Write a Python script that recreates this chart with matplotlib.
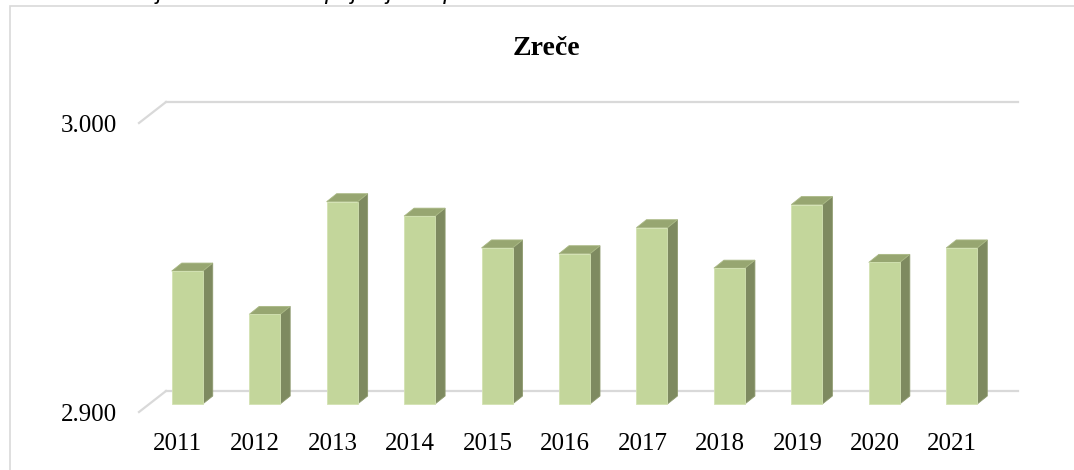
import matplotlib
matplotlib.use('Agg')
import matplotlib.pyplot as plt
from matplotlib.patches import Polygon, Rectangle

# Podatki
leta = ['2011', '2012', '2013', '2014', '2015', '2016', '2017', '2018', '2019', '2020', '2021']
prebivalci = [2946, 2931, 2970, 2965, 2954, 2952, 2961, 2947, 2969, 2949, 2954]
y_ticks = [2900, 3000]
y_tick_labels = ['2.900', '3.000']
naslov = 'Zreče'
napis_zgoraj = 'Graf 3: Gibanje števila stalno prijavljenih prebivalcev v občini Zreče'

# Barve (Excel 3D stolpci)
C_FRONT = '#C3D69B'
C_TOP = '#97A671'
C_SIDE = '#7E8A60'
C_GRID = '#D9D9D9'

W, H = 1074, 470
fig = plt.figure(figsize=(W / 100, H / 100), dpi=100)
fig.patch.set_facecolor('white')

# okvir grafa
fig.patches.append(Rectangle((10 / W, -0.1), 1.2, (H - 6) / H + 0.1, transform=fig.transFigure,
                             fill=False, edgecolor=C_GRID, linewidth=1.2))

# os (sprednja ravnina)
left, right = 139, 991
bottom, top = 412, 123
ax = fig.add_axes([left / W, (H - bottom) / H, (right - left) / W, (bottom - top) / H])
ax.set_xlim(0, len(leta))
ax.set_ylim(y_ticks[0], y_ticks[-1])
ax.axis('off')

ppx = (right - left) / len(leta)          # pikslov na kategorijo
ppy = (bottom - top) / (y_ticks[-1] - y_ticks[0])  # pikslov na enoto

def dx(p):
    return p / ppx

def dy(p):
    return p / ppy

# mreža na zadnji steni + diagonala na levi
wx, wy = dx(27), dy(21)
for t in y_ticks:
    ax.plot([wx, len(leta) + wx], [t + wy, t + wy], color=C_GRID, lw=1.6, clip_on=False, zorder=1)
    ax.plot([0, wx], [t, t + wy], color=C_GRID, lw=1.6, clip_on=False, zorder=1)

# 3D stolpci
bw = dx(31)
ox, oy = dx(9.5), dy(8)
sx, sy = dx(10), dy(8)
base = y_ticks[0]
for i, v in enumerate(prebivalci):
    x0 = i + 0.5 - bw / 2 + ox
    x1 = x0 + bw
    y0 = base + oy
    y1 = v + oy
    side = Polygon([(x1, y0), (x1, y1), (x1 + sx, y1 + sy), (x1 + sx, y0 + sy)],
                   closed=True, facecolor=C_SIDE, edgecolor='#8E9A6E', lw=0.6, zorder=3, clip_on=False)
    topf = Polygon([(x0, y1), (x1, y1), (x1 + sx, y1 + sy), (x0 + sx, y1 + sy)],
                   closed=True, facecolor=C_TOP, edgecolor='#A9B884', lw=0.6, zorder=3, clip_on=False)
    ax.add_patch(side)
    ax.add_patch(topf)
    ax.bar(i + 0.5 + ox, v - base, bottom=y0, width=bw, color=C_FRONT,
           edgecolor='#D3E2B2', linewidth=0.6, zorder=4, clip_on=False)

# oznake osi
for t, lab in zip(y_ticks, y_tick_labels):
    ax.text(-dx(22), t - dy(3), lab, ha='right', va='center', fontsize=18,
            family='Liberation Serif', color='black')
for i, lab in enumerate(leta):
    ax.text(i + 0.5, base - dy(32), lab, ha='center', va='center', fontsize=18,
            family='Liberation Serif', color='black')

fig.text(546 / W, (H - 55) / H, naslov, ha='center', va='baseline', fontsize=20,
         fontweight='bold', family='Liberation Serif')

# odrezan napis nad grafom
fig.text(15 / W, 1 + 1 / H, napis_zgoraj, ha='left', va='baseline', fontsize=17,
         style='italic', family='Liberation Sans', color='black')

fig.savefig('out.png', dpi=100, facecolor='white')
